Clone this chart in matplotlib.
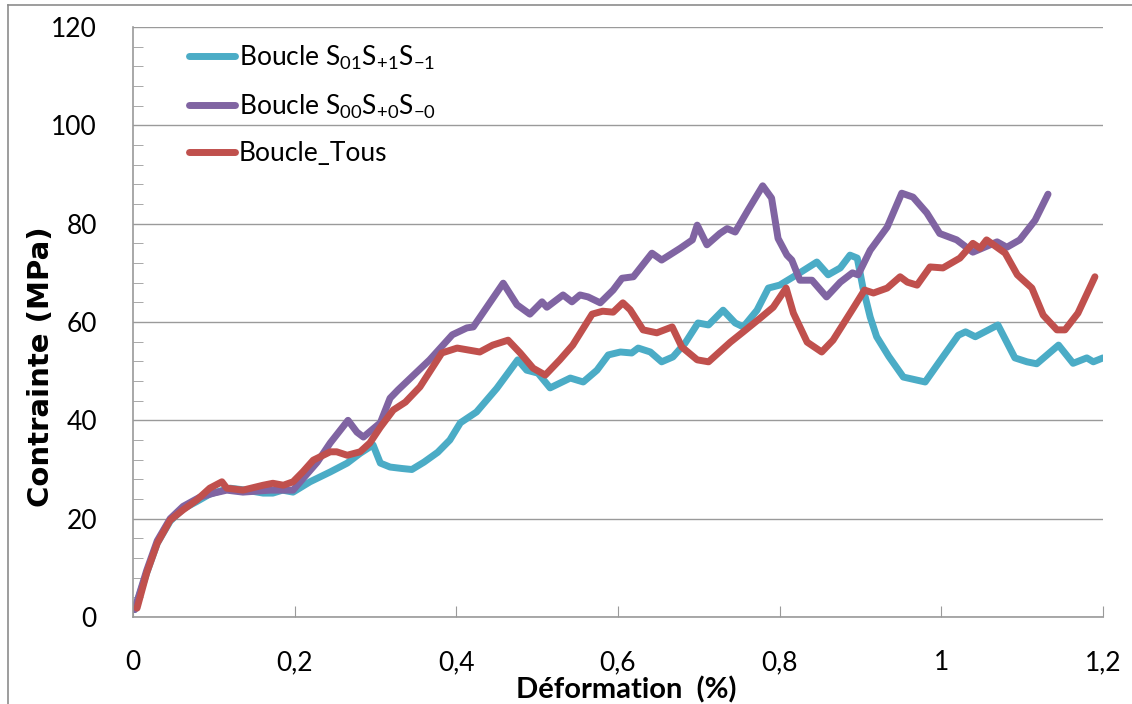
import matplotlib
matplotlib.use("Agg")
import matplotlib.pyplot as plt
from matplotlib.lines import Line2D
from matplotlib.ticker import MultipleLocator, FixedLocator, FixedFormatter

plt.rcParams['font.family'] = ['Lato', 'DejaVu Sans']
plt.rcParams['mathtext.fontset'] = 'custom'
plt.rcParams['mathtext.rm'] = 'Lato'

# strain (%) / stress (MPa) curves for the three loop sets
x_s01 = [0.002, 0.017, 0.03, 0.046, 0.062, 0.079, 0.095, 0.12, 0.14, 0.161,
         0.173, 0.185, 0.198, 0.219, 0.244, 0.265, 0.281, 0.297, 0.306, 0.318,
         0.333, 0.345, 0.36, 0.377, 0.392, 0.405, 0.425, 0.45, 0.476, 0.487,
         0.501, 0.516, 0.541, 0.557, 0.574, 0.588, 0.603, 0.617, 0.625, 0.64,
         0.654, 0.668, 0.683, 0.699, 0.712, 0.73, 0.745, 0.755, 0.772, 0.786,
         0.8, 0.821, 0.846, 0.86, 0.875, 0.887, 0.896, 0.903, 0.912, 0.92,
         0.935, 0.953, 0.98, 0.998, 1.021, 1.03, 1.042, 1.07, 1.091, 1.106,
         1.118, 1.145, 1.163, 1.18, 1.188, 1.2]
y_s01 = [1.5, 9, 15, 19.5, 22, 23.5, 25, 26.2, 25.8, 25.2,
         25.2, 25.8, 25.4, 27.5, 29.5, 31.3, 33.3, 35, 31.3, 30.5,
         30.2, 30, 31.5, 33.5, 36, 39.5, 41.7, 46.5, 52.3, 50.2,
         49.6, 46.6, 48.6, 47.8, 50.2, 53.3, 53.9, 53.7, 54.7, 53.9,
         51.9, 52.9, 55.7, 59.8, 59.4, 62.4, 59.8, 59, 62.4, 66.9,
         67.5, 69.6, 72.2, 69.6, 71, 73.6, 73, 67, 61, 57,
         53, 48.8, 47.8, 52, 57.3, 58, 57, 59.4, 52.7, 51.9,
         51.5, 55.3, 51.6, 52.7, 51.9, 52.7]

x_s00 = [0.002, 0.017, 0.03, 0.046, 0.062, 0.083, 0.1, 0.116, 0.136, 0.17,
         0.198, 0.228, 0.244, 0.266, 0.277, 0.285, 0.306, 0.318, 0.328, 0.351,
         0.367, 0.395, 0.413, 0.421, 0.458, 0.475, 0.491, 0.506, 0.512, 0.532,
         0.543, 0.553, 0.563, 0.578, 0.594, 0.605, 0.619, 0.642, 0.654, 0.677,
         0.692, 0.698, 0.71, 0.726, 0.735, 0.745, 0.761, 0.779, 0.79, 0.798,
         0.809, 0.815, 0.825, 0.84, 0.858, 0.875, 0.89, 0.897, 0.912, 0.933,
         0.951, 0.965, 0.982, 0.998, 1.019, 1.039, 1.069, 1.081, 1.097, 1.116,
         1.132]
y_s00 = [1.5, 9.5, 15.5, 20, 22.5, 24.4, 25.2, 25.8, 25.4, 25.8,
         25.8, 31.5, 35.4, 40, 37.6, 36.6, 39.5, 44.5, 46.2, 49.8,
         52.3, 57.4, 58.8, 59, 67.9, 63.5, 61.6, 64.1, 63, 65.5,
         64.1, 65.5, 65.1, 63.9, 66.5, 68.9, 69.2, 74, 72.6, 75,
         76.7, 79.7, 75.7, 78, 79, 78.3, 82.8, 87.7, 85.2, 77,
         73.6, 72.6, 68.5, 68.5, 65.1, 68.1, 70, 69.6, 74.6, 79.3,
         86.2, 85.4, 82.2, 78, 76.7, 74.2, 76.3, 75.2, 76.7, 80.7,
         86]

x_tous = [0.005, 0.017, 0.03, 0.046, 0.062, 0.079, 0.095, 0.11, 0.116, 0.136,
          0.161, 0.173, 0.186, 0.198, 0.21, 0.223, 0.244, 0.252, 0.265, 0.281,
          0.293, 0.306, 0.322, 0.337, 0.355, 0.382, 0.401, 0.429, 0.445, 0.464,
          0.479, 0.495, 0.51, 0.528, 0.544, 0.568, 0.581, 0.594, 0.606, 0.615,
          0.631, 0.648, 0.667, 0.679, 0.698, 0.712, 0.739, 0.755, 0.776, 0.792,
          0.808, 0.817, 0.834, 0.852, 0.866, 0.891, 0.905, 0.916, 0.933, 0.949,
          0.958, 0.97, 0.986, 1.002, 1.023, 1.039, 1.048, 1.056, 1.079, 1.094,
          1.112, 1.126, 1.143, 1.153, 1.169, 1.19]
y_tous = [1.8, 9, 15, 19.7, 21.8, 23.8, 26.2, 27.5, 26.2, 25.8,
          26.8, 27.2, 26.8, 27.5, 29.5, 31.9, 33.6, 33.6, 32.9, 33.6,
          35.4, 38.6, 42.1, 43.7, 46.8, 53.7, 54.7, 53.9, 55.3, 56.3,
          53.7, 50.6, 49.2, 52.3, 55.3, 61.6, 62.2, 62, 63.9, 62.5,
          58.4, 57.8, 59, 54.9, 52.3, 51.9, 55.9, 58, 60.8, 63,
          66.9, 61.8, 55.9, 53.9, 56.3, 62.8, 66.5, 65.9, 66.9, 69.2,
          68.1, 67.5, 71.2, 71, 73, 76, 75, 76.7, 74, 69.6,
          66.9, 61.4, 58.4, 58.4, 61.8, 69.2]

x_ticks = [0, 0.2, 0.4, 0.6, 0.8, 1.0, 1.2]
x_tick_labels = ['0', '0,2', '0,4', '0,6', '0,8', '1', '1,2']

series = [
    (x_s01, y_s01, r'Boucle $\mathregular{S_{01}S_{+1}S_{-1}}$', '#4BACC6'),
    (x_s00, y_s00, r'Boucle $\mathregular{S_{00}S_{+0}S_{-0}}$', '#8064A2'),
    (x_tous, y_tous, 'Boucle_Tous', '#C0504D'),
]

fig = plt.figure(figsize=(11.32, 7.04), dpi=100)
ax = fig.add_axes([133 / 1132, 1 - 617 / 704, 970 / 1132, 590 / 704])

for xs, ys, lab, col in series:
    ax.plot(xs, ys, color=col, lw=5, label=lab,
            solid_capstyle='round', solid_joinstyle='round')

ax.set_xlim(0, 1.2)
ax.set_ylim(0, 120)

# horizontal gridlines only, Excel-like grey axes
ax.yaxis.set_major_locator(MultipleLocator(20))
ax.yaxis.set_minor_locator(MultipleLocator(4))
ax.grid(axis='y', which='major', color='#9a9a9a', lw=1.0)
ax.xaxis.set_major_locator(FixedLocator(x_ticks))
ax.xaxis.set_major_formatter(FixedFormatter(x_tick_labels))

for side in ('top', 'right'):
    ax.spines[side].set_visible(False)
for side in ('left', 'bottom'):
    ax.spines[side].set_color('#9a9a9a')
    ax.spines[side].set_linewidth(1.2)

ax.tick_params(axis='x', which='major', direction='in', length=8,
               color='#9a9a9a', labelsize=19, pad=24)
ax.tick_params(axis='y', which='major', length=0, labelsize=19, pad=26)
ax.tick_params(axis='y', which='minor', direction='in', length=7,
               color='#9a9a9a')

ax.set_xlabel('Déformation  (%)', fontsize=21, fontweight='bold')
ax.xaxis.set_label_coords(0.509, -0.1)
ax.set_ylabel('Contrainte (MPa)', fontsize=21, fontweight='bold',
              family=['DejaVu Sans'])
ax.yaxis.set_label_coords(-0.08, 0.425)

leg = ax.legend(loc='upper left', bbox_to_anchor=(0.058, 0.972),
                frameon=False, fontsize=19, handlelength=1.75,
                handletextpad=0.12, labelspacing=0.78,
                borderpad=0, borderaxespad=0)
for h in leg.get_lines():
    h.set_linewidth(5)
    h.set_solid_capstyle('round')

# outer chart frame
fig.add_artist(Line2D([8 / 1132, 1], [1 - 5 / 704, 1 - 5 / 704],
                      color='#8c8c8c', lw=1.2, transform=fig.transFigure))
fig.add_artist(Line2D([8 / 1132, 8 / 1132], [0, 1 - 5 / 704],
                      color='#8c8c8c', lw=1.2, transform=fig.transFigure))

fig.savefig('out.png', dpi=100)
